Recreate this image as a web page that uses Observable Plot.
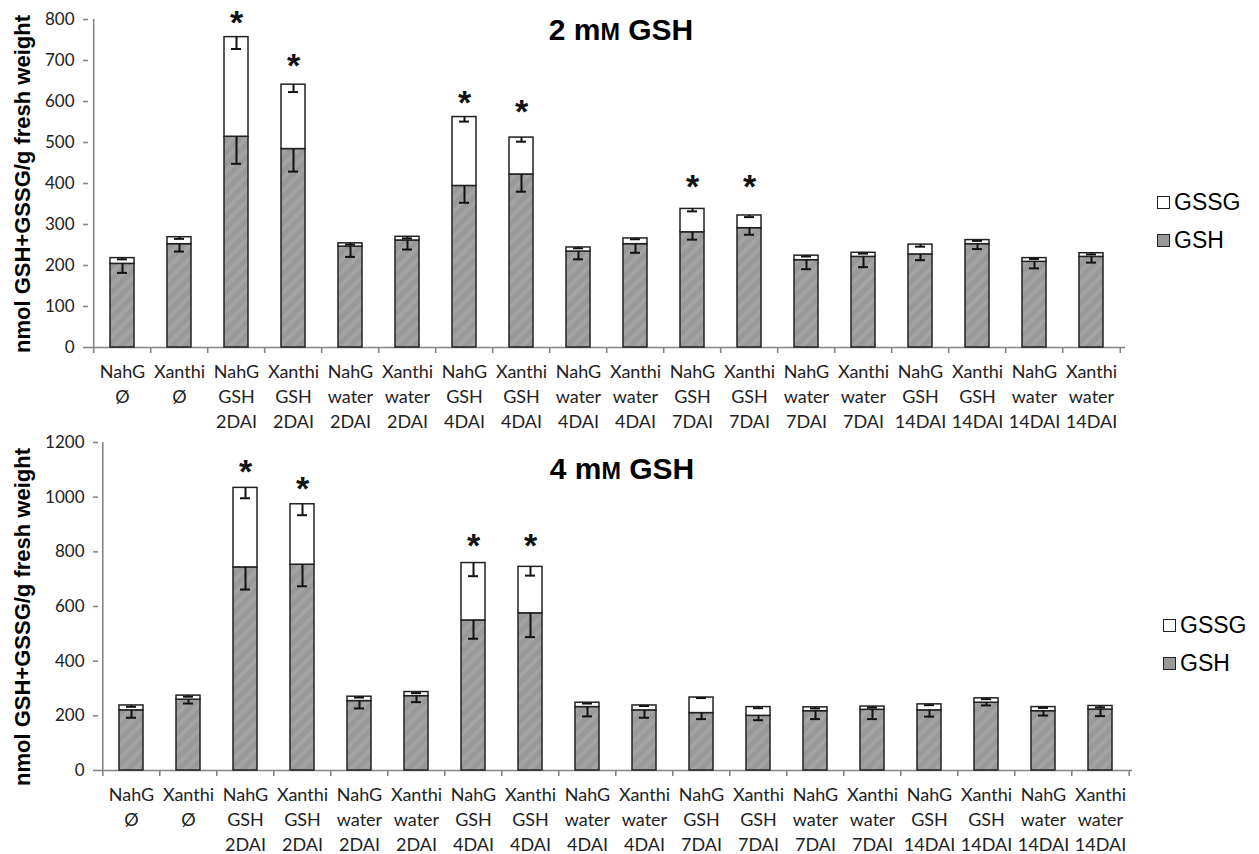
<!DOCTYPE html>
<html>
<head>
<meta charset="utf-8">
<script src="https://cdn.jsdelivr.net/npm/d3@7"></script>
<script src="https://cdn.jsdelivr.net/npm/@observablehq/plot@0.6"></script>
<style>
  html, body { margin: 0; padding: 0; background: #fff; }
  #wrap { position: relative; width: 1259px; height: 854px; overflow: hidden; }
  .abs { position: absolute; }
  .title { font-family: "Liberation Sans", Arial, sans-serif; font-weight: bold; font-size: 30px; line-height: 30px; white-space: nowrap; transform: translateX(-50%); color: #000; }
  .title .sc { font-size: 0.78em; }
  .ylab { font-family: "Liberation Sans", Arial, sans-serif; font-weight: bold; font-size: 22px; line-height: 22px; white-space: nowrap; transform: translate(-50%, -50%) rotate(-90deg); color: #000; }
  .leg { display: flex; align-items: center; font-family: "Liberation Sans", Arial, sans-serif; font-size: 23px; line-height: 24px; color: #000; white-space: nowrap; }
  .sw { width: 11px; height: 11px; border: 1.2px solid #222; margin-right: 4px; }
</style>
</head>
<body>
<div id="wrap">
  <div id="c1" class="abs" style="left:0;top:0"></div>
  <div id="c2" class="abs" style="left:0;top:430px"></div>
</div>
<script>
// ---------- data ----------
const categories = ["NahG Ø","Xanthi Ø","NahG GSH 2DAI","Xanthi GSH 2DAI","NahG water 2DAI","Xanthi water 2DAI",
  "NahG GSH 4DAI","Xanthi GSH 4DAI","NahG water 4DAI","Xanthi water 4DAI","NahG GSH 7DAI","Xanthi GSH 7DAI",
  "NahG water 7DAI","Xanthi water 7DAI","NahG GSH 14DAI","Xanthi GSH 14DAI","NahG water 14DAI","Xanthi water 14DAI"];
const seriesNames = ["GSSG", "GSH"];

// 2 mM GSH panel
const gsh2     = [204, 252, 514, 484, 246, 261, 394, 422, 234, 252, 281, 291, 213, 221, 227, 252, 209, 221];
const gssg2    = [14, 17, 243, 157, 8, 9, 168, 90, 10, 14, 57, 31, 11, 10, 24, 10, 9, 9];
const gshErr2  = [22, 18, 66, 55, 25, 22, 41, 42, 19, 21, 18, 16, 22, 25, 14, 12, 16, 14];
const gssgErr2 = [3, 4, 29, 18, 3, 4, 11, 10, 2, 2, 6, 4, 2, 2, 5, 2, 2, 3];
const starCats2 = ["NahG GSH 2DAI","Xanthi GSH 2DAI","NahG GSH 4DAI","Xanthi GSH 4DAI","NahG GSH 7DAI","Xanthi GSH 7DAI"];
const starY2    = [800, 695, 605, 583, 402, 402];
const yTicks2   = [0, 100, 200, 300, 400, 500, 600, 700, 800];

// 4 mM GSH panel
const gsh4     = [220, 259, 743, 753, 254, 272, 549, 575, 232, 220, 210, 200, 217, 222, 220, 248, 217, 223];
const gssg4    = [18, 15, 291, 221, 16, 15, 210, 170, 16, 18, 57, 32, 14, 12, 22, 16, 15, 13];
const gshErr4  = [27, 14, 81, 79, 27, 22, 67, 87, 34, 27, 22, 16, 29, 34, 23, 10, 16, 24];
const gssgErr4 = [5, 4, 38, 40, 3, 4, 48, 32, 3, 2, 2, 4, 4, 4, 3, 3, 3, 5];
const starCats4 = ["NahG GSH 2DAI","Xanthi GSH 2DAI","NahG GSH 4DAI","Xanthi GSH 4DAI"];
const starY4    = [1105, 1044, 834, 834];
const yTicks4   = [0, 200, 400, 600, 800, 1000, 1200];

const titles = ["2 m<span class=\"sc\">M</span> GSH", "4 m<span class=\"sc\">M</span> GSH"];
const yLabel = "nmol GSH+GSSG/g fresh weight";

// ---------- drawing ----------
function makeChart(cfg) {
  const {gsh, gssg, gshErr, gssgErr, starCats, starY, yTicks, height, ml, mr, mt, mb, pid} = cfg;
  const rows = categories.map((c, i) => ({
    cat: c, gsh: gsh[i], total: gsh[i] + gssg[i],
    gshLow: gsh[i] - gshErr[i], totLow: gsh[i] + gssg[i] - gssgErr[i]
  }));
  const stars = starCats.map((c, i) => ({cat: c, y: starY[i]}));
  const width = 1259;
  const step = (width - ml - mr) / categories.length;
  const ymax = yTicks[yTicks.length - 1];
  const plotH = height - mt - mb;
  const tickLen = 6 / plotH * ymax;
  const last = categories[categories.length - 1];
  const axisGrey = "#858585";

  const svg = Plot.plot({
    width, height,
    marginLeft: ml, marginRight: mr, marginTop: mt, marginBottom: mb,
    style: {fontFamily: "Lato, sans-serif", fontSize: "17px", background: "transparent", overflow: "visible"},
    x: {domain: categories, paddingInner: 0.58, paddingOuter: 0.29, axis: null},
    y: {domain: [0, ymax], axis: null},
    marks: [
      // x axis baseline
      Plot.ruleY([0], {stroke: axisGrey, strokeWidth: 1.6}),
      // category boundary ticks (also y axis line at the first boundary)
      Plot.ruleX(categories, {x: d => d, y1: 0, y2: -tickLen, dx: -step / 2, stroke: axisGrey, strokeWidth: 1.6}),
      Plot.ruleX([last], {x: d => d, y1: 0, y2: -tickLen, dx: step / 2, stroke: axisGrey, strokeWidth: 1.6}),
      Plot.ruleX([categories[0]], {x: d => d, y1: 0, y2: ymax, dx: -step / 2, stroke: axisGrey, strokeWidth: 1.6}),
      Plot.axisY({ticks: yTicks, tickFormat: d => String(d), label: null, tickSize: 5, tickPadding: 9,
        stroke: axisGrey, fill: "#222", fontSize: 17, strokeWidth: 1.6}),
      Plot.axisX({label: null, tickSize: 0, tickPadding: 13, tickFormat: d => d.split(" ").join("\n"),
        fontSize: 18, lineHeight: 1.39, fill: "#222"}),
      // stacked bars
      Plot.barY(rows, {x: "cat", y1: 0, y2: "gsh", fill: `url(#${pid})`, stroke: "#222", strokeWidth: 1.5}),
      Plot.barY(rows, {x: "cat", y1: "gsh", y2: "total", fill: "#fff", stroke: "#222", strokeWidth: 1.5}),
      // minus error bars
      Plot.ruleX(rows, {x: "cat", y1: "gsh", y2: "gshLow", stroke: "#111", strokeWidth: 2}),
      Plot.tickY(rows, {x: "cat", y: "gshLow", insetLeft: 7, insetRight: 7, stroke: "#111", strokeWidth: 2}),
      Plot.ruleX(rows, {x: "cat", y1: "total", y2: "totLow", stroke: "#111", strokeWidth: 2}),
      Plot.tickY(rows, {x: "cat", y: "totLow", insetLeft: 7, insetRight: 7, stroke: "#111", strokeWidth: 2}),
      // significance stars
      Plot.text(stars, {x: "cat", y: "y", text: () => "*", fontFamily: "Liberation Sans, Arial, sans-serif",
        fontWeight: "bold", fontSize: 34, lineAnchor: "middle", dy: 4, fill: "#111"})
    ]
  });
  const defs = d3.select(svg).insert("defs", ":first-child");
  const pat = defs.append("pattern").attr("id", pid).attr("patternUnits", "userSpaceOnUse")
    .attr("width", 9).attr("height", 9).attr("patternTransform", "rotate(45)");
  pat.append("rect").attr("width", 9).attr("height", 9).attr("fill", "#999999");
  pat.append("rect").attr("width", 4).attr("height", 9).attr("fill", "#a3a3a3");
  return svg;
}

document.getElementById("c1").appendChild(makeChart({
  gsh: gsh2, gssg: gssg2, gshErr: gshErr2, gssgErr: gssgErr2, starCats: starCats2, starY: starY2,
  yTicks: yTicks2, height: 430, ml: 88, mr: 134, mt: 19, mb: 83, pid: "hatchA"
}));
document.getElementById("c2").appendChild(makeChart({
  gsh: gsh4, gssg: gssg4, gshErr: gshErr4, gssgErr: gssgErr4, starCats: starCats4, starY: starY4,
  yTicks: yTicks4, height: 424, ml: 98, mr: 127, mt: 12, mb: 84, pid: "hatchB"
}));

// titles, axis labels, legends
const wrap = document.getElementById("wrap");
function add(html, cls, style) {
  const d = document.createElement("div");
  d.className = "abs " + cls;
  d.setAttribute("style", style);
  d.innerHTML = html;
  wrap.appendChild(d);
}
add(titles[0], "title", "left:621px;top:15px");
add(titles[1], "title", "left:622px;top:454px");
add(yLabel, "ylab", "left:23px;top:184px");
add(yLabel, "ylab", "left:23px;top:617px");
function legend(left, tops) {
  const fills = {GSSG: "#fff", GSH: "#999"};
  seriesNames.forEach((s, i) => {
    add(`<div class="sw" style="background:${fills[s]}"></div><span>${s}</span>`, "leg", `left:${left}px;top:${tops[i]}px`);
  });
}
legend(1157, [190, 228]);
legend(1163, [613, 651]);
</script>
</body>
</html>
